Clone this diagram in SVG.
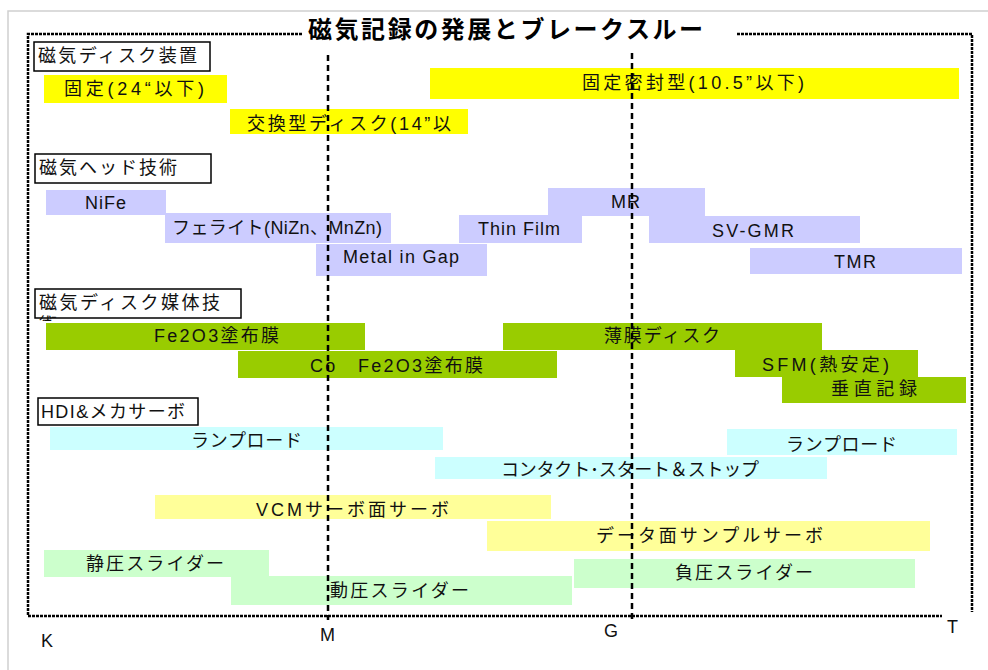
<svg xmlns="http://www.w3.org/2000/svg" width="988" height="670" viewBox="0 0 988 670">
<style>
text{font-family:"Liberation Sans","Noto Sans CJK JP",sans-serif;font-size:18px;fill:#111;}
.title{font-size:24px;font-weight:bold;fill:#000;}
.lbl{fill:#fff;stroke:#000;stroke-width:1.5;}
.y{fill:#ffff00;}
.b{fill:#ccccff;}
.g{fill:#99cc00;}
.c{fill:#ccffff;}
.ly{fill:#ffff99;}
.lg{fill:#ccffcc;}
.frame{fill:none;stroke:#000;stroke-width:2.5;stroke-dasharray:3 1;}
.guide{fill:none;stroke:#000;stroke-width:2.5;stroke-dasharray:6 4;}
</style>
<defs>
<clipPath id="clipMedia"><rect x="35" y="289" width="206" height="32"/></clipPath>
</defs>
<rect width="988" height="670" fill="#fff"/>
<g id="slide-edge" fill="none" stroke="#d0d0d0" stroke-width="1.5">
<path d="M8 670 V11 H988"/>
</g>
<g id="frame">
<path class="frame" d="M302 34 H28 V616 H942"/>
<path class="frame" d="M737 34 H972 V612"/>
</g>
<g id="title"><text class="title" x="308" y="38" textLength="395" lengthAdjust="spacing">磁気記録の発展とブレークスルー</text></g>

<g id="sec-disk"><rect class="lbl" x="34" y="42" width="176" height="29"/><text x="38" y="62" textLength="159" lengthAdjust="spacing">磁気ディスク装置</text></g>
<g id="sec-head"><rect class="lbl" x="35" y="154" width="176" height="29"/><text x="39" y="174" textLength="138" lengthAdjust="spacing">磁気ヘッド技術</text></g>
<g id="sec-media"><rect class="lbl" x="35" y="289" width="206" height="29"/><text x="39" y="309" textLength="181" lengthAdjust="spacing">磁気ディスク媒体技</text><text x="39" y="331" clip-path="url(#clipMedia)">術</text></g>
<g id="sec-hdi"><rect class="lbl" x="38" y="398" width="160" height="27"/><text x="41" y="418" textLength="144" lengthAdjust="spacing">HDI&amp;メカサーボ</text></g>

<g id="disk-fixed24"><rect class="y" x="44" y="75" width="183" height="28"/><text x="64" y="95" textLength="140" lengthAdjust="spacing">固定(24“以下)</text></g>
<g id="disk-exchange"><rect class="y" x="230" y="109" width="238" height="25"/><text x="247" y="130" textLength="204" lengthAdjust="spacing">交換型ディスク(14”以</text></g>
<g id="disk-sealed"><rect class="y" x="430" y="68" width="529" height="31"/><text x="582" y="89" textLength="222" lengthAdjust="spacing">固定密封型(10.5”以下)</text></g>

<g id="head-nife"><rect class="b" x="46" y="190" width="120" height="25"/><text x="85" y="209" textLength="41" lengthAdjust="spacing">NiFe</text></g>
<g id="head-ferrite"><rect class="b" x="165" y="213" width="226" height="30"/><text x="172" y="234" textLength="210" lengthAdjust="spacing">フェライト(NiZn、MnZn)</text></g>
<g id="head-mig"><rect class="b" x="316" y="244" width="171" height="32"/><text x="343" y="263" textLength="116" lengthAdjust="spacing">Metal in Gap</text></g>
<g id="head-thinfilm"><rect class="b" x="459" y="215" width="123" height="28"/><text x="478" y="235" textLength="82" lengthAdjust="spacing">Thin Film</text></g>
<g id="head-mr"><rect class="b" x="548" y="188" width="157" height="28"/><text x="611" y="208" textLength="29" lengthAdjust="spacing">MR</text></g>
<g id="head-svgmr"><rect class="b" x="649" y="216" width="211" height="27"/><text x="712" y="237" textLength="82" lengthAdjust="spacing">SV-GMR</text></g>
<g id="head-tmr"><rect class="b" x="750" y="248" width="212" height="26"/><text x="834" y="268" textLength="42" lengthAdjust="spacing">TMR</text></g>

<g id="media-fe2o3"><rect class="g" x="46" y="323" width="319" height="27"/><text x="154" y="342" textLength="125" lengthAdjust="spacing">Fe2O3塗布膜</text></g>
<g id="media-co-fe2o3"><rect class="g" x="238" y="351" width="319" height="27"/><text x="310" y="372" textLength="173" lengthAdjust="spacing">Co　Fe2O3塗布膜</text></g>
<g id="media-thinfilm"><rect class="g" x="503" y="323" width="319" height="27"/><text x="604" y="342" textLength="116" lengthAdjust="spacing">薄膜ディスク</text></g>
<g id="media-sfm"><rect class="g" x="735" y="350" width="183" height="27"/><text x="762" y="371" textLength="127" lengthAdjust="spacing">SFM(熱安定)</text></g>
<g id="media-perp"><rect class="g" x="782" y="377" width="184" height="26"/><text x="831" y="395" textLength="86" lengthAdjust="spacing">垂直記録</text></g>

<g id="hdi-ramp1"><rect class="c" x="50" y="427" width="393" height="23"/><text x="191" y="447" textLength="111" lengthAdjust="spacing">ランプロード</text></g>
<g id="hdi-css"><rect class="c" x="435" y="457" width="392" height="22"/><text x="501" y="476" textLength="258" lengthAdjust="spacing">コンタクト･スタート＆ストップ</text></g>
<g id="hdi-ramp2"><rect class="c" x="727" y="429" width="230" height="26"/><text x="786" y="451" textLength="111" lengthAdjust="spacing">ランプロード</text></g>
<g id="servo-vcm"><rect class="ly" x="155" y="495" width="396" height="24"/><text x="256" y="516" textLength="193" lengthAdjust="spacing">VCMサーボ面サーボ</text></g>
<g id="servo-sample"><rect class="ly" x="487" y="521" width="443" height="30"/><text x="596" y="542" textLength="227" lengthAdjust="spacing">データ面サンプルサーボ</text></g>
<g id="slider-static"><rect class="lg" x="44" y="550" width="225" height="27"/><text x="86" y="570" textLength="138" lengthAdjust="spacing">静圧スライダー</text></g>
<g id="slider-dynamic"><rect class="lg" x="231" y="576" width="341" height="29"/><text x="330" y="597" textLength="139" lengthAdjust="spacing">動圧スライダー</text></g>
<g id="slider-negative"><rect class="lg" x="574" y="559" width="341" height="29"/><text x="675" y="579" textLength="138" lengthAdjust="spacing">負圧スライダー</text></g>

<g id="connectors">
<line class="guide" x1="328" y1="55" x2="328" y2="620"/>
<line class="guide" x1="632" y1="53" x2="632" y2="620"/>
</g>
<g id="axis">
<text x="41" y="647">K</text>
<text x="320" y="641">M</text>
<text x="604" y="637">G</text>
<text x="947" y="633">T</text>
</g>
</svg>
